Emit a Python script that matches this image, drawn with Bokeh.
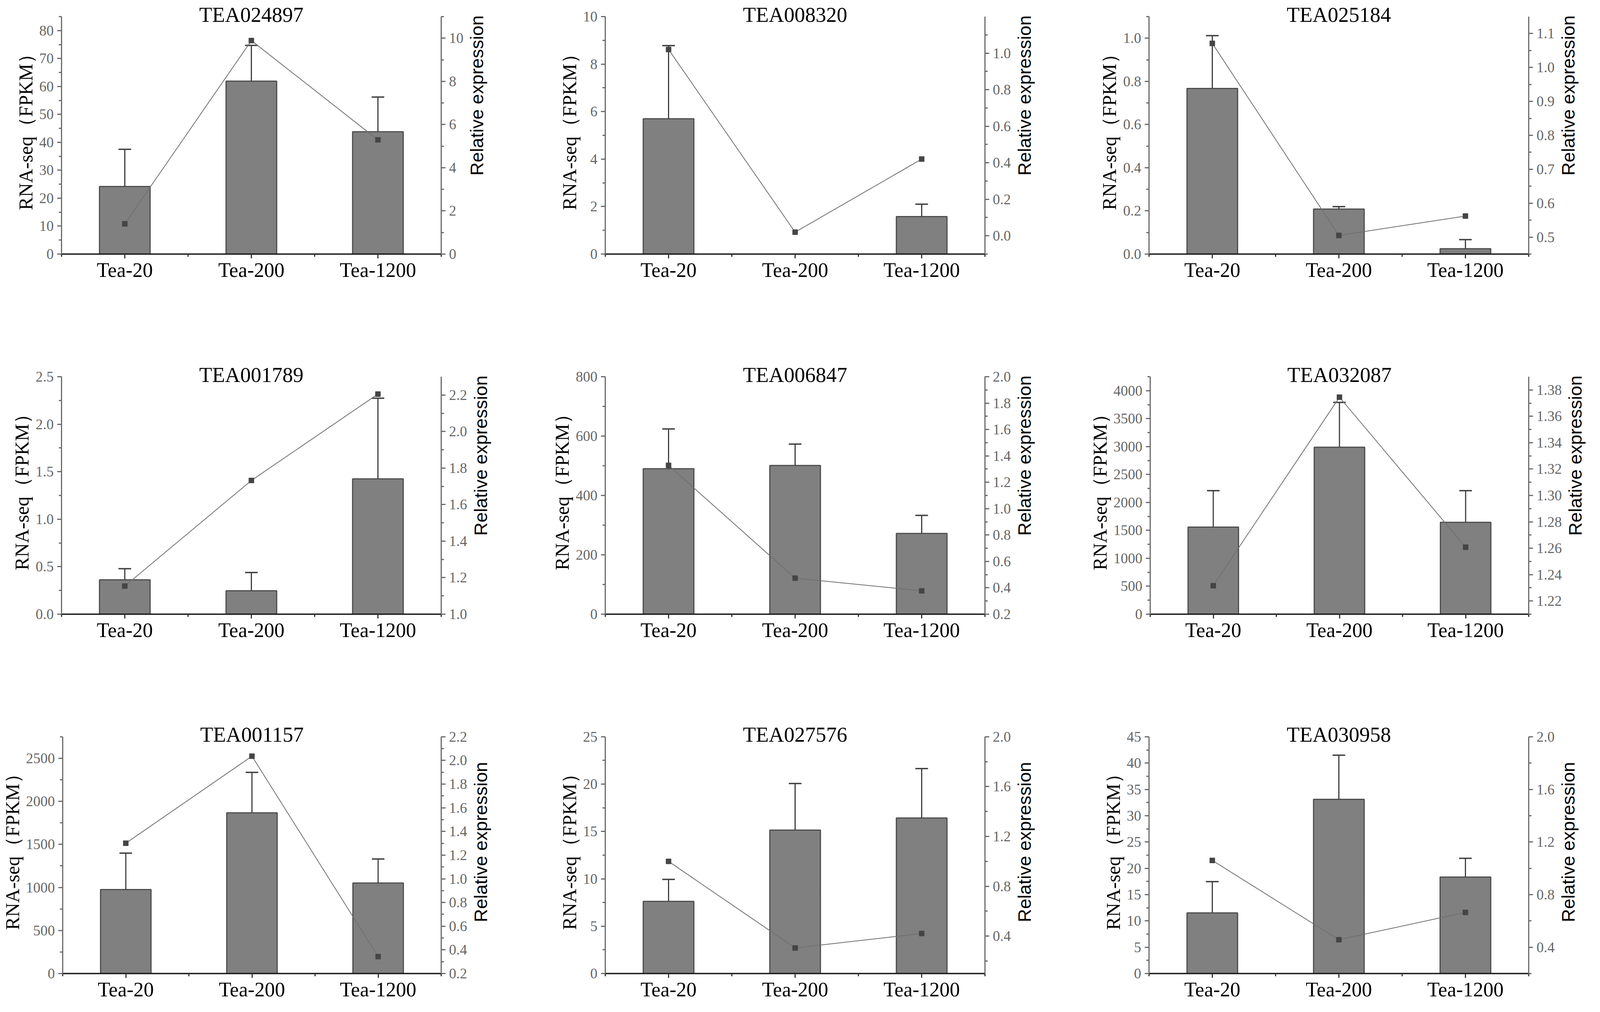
import math
from bokeh.plotting import figure
from bokeh.layouts import row, column
from bokeh.models import (Range1d, LinearAxis, SingleIntervalTicker, FixedTicker,
                          Label, PrintfTickFormatter)
from bokeh.embed import file_html
from bokeh.resources import INLINE

categories = ["Tea-20", "Tea-200", "Tea-1200"]
genes = ["TEA024897", "TEA008320", "TEA025184",
         "TEA001789", "TEA006847", "TEA032087",
         "TEA001157", "TEA027576", "TEA030958"]

# RNA-seq (FPKM) mean, its SD (upper error bar) and qPCR relative expression
fpkm_TEA024897 = [24.2, 61.9, 43.8]
sd_TEA024897 = [13.3, 12.8, 12.4]
rel_TEA024897 = [1.40, 9.89, 5.29]

fpkm_TEA008320 = [5.70, 0.0, 1.58]
sd_TEA008320 = [3.08, float("nan"), 0.52]
rel_TEA008320 = [1.02, 0.02, 0.42]

fpkm_TEA025184 = [0.767, 0.2085, 0.025]
sd_TEA025184 = [0.245, 0.0115, 0.042]
rel_TEA025184 = [1.071, 0.505, 0.562]

fpkm_TEA001789 = [0.362, 0.247, 1.425]
sd_TEA001789 = [0.117, 0.192, 0.849]
rel_TEA001789 = [1.154, 1.732, 2.205]

fpkm_TEA006847 = [490, 501, 272]
sd_TEA006847 = [134, 72, 61]
rel_TEA006847 = [1.328, 0.473, 0.377]

fpkm_TEA032087 = [1559, 2988, 1645]
sd_TEA032087 = [651, 802, 565]
rel_TEA032087 = [1.2316, 1.3745, 1.2608]

fpkm_TEA001157 = [975, 1867, 1052]
sd_TEA001157 = [423, 469, 278]
rel_TEA001157 = [1.301, 2.036, 0.343]

fpkm_TEA027576 = [7.62, 15.15, 16.43]
sd_TEA027576 = [2.32, 4.92, 5.21]
rel_TEA027576 = [1.00, 0.305, 0.421]

fpkm_TEA030958 = [11.53, 33.12, 18.33]
sd_TEA030958 = [5.94, 8.38, 3.57]
rel_TEA030958 = [1.06, 0.457, 0.665]

# axis settings (range low, range high, major tick interval)
left_axis = [(0, 85, 10), (0, 10, 2), (0, 1.1, 0.2),
             (0, 2.5, 0.5), (0, 800, 200), (0, 4250, 500),
             (0, 2750, 500), (0, 25, 5), (0, 45, 5)]
right_axis = [(0, 11, 2), (-0.1, 1.2, 0.2), (0.45, 1.15, 0.1),
              (1.0, 2.3, 0.2), (0.2, 2.0, 0.2), (1.21, 1.39, 0.02),
              (0.2, 2.2, 0.2), (0.1, 2.0, 0.4), (0.2, 2.0, 0.4)]

series = {
    "TEA024897": (fpkm_TEA024897, sd_TEA024897, rel_TEA024897),
    "TEA008320": (fpkm_TEA008320, sd_TEA008320, rel_TEA008320),
    "TEA025184": (fpkm_TEA025184, sd_TEA025184, rel_TEA025184),
    "TEA001789": (fpkm_TEA001789, sd_TEA001789, rel_TEA001789),
    "TEA006847": (fpkm_TEA006847, sd_TEA006847, rel_TEA006847),
    "TEA032087": (fpkm_TEA032087, sd_TEA032087, rel_TEA032087),
    "TEA001157": (fpkm_TEA001157, sd_TEA001157, rel_TEA001157),
    "TEA027576": (fpkm_TEA027576, sd_TEA027576, rel_TEA027576),
    "TEA030958": (fpkm_TEA030958, sd_TEA030958, rel_TEA030958),
}

AX_GRAY = "#6b6b6b"
SERIF = "Liberation Serif"
SANS = "Liberation Sans"

TOTAL_W = 4060
COL_PITCH = 1392
BORDER_LEFT = 157
FRAME_W = 972
TITLE_ZONE = 42
row_heights = [922, 922, 720]
row_border_bottom = [272, 272, 70]
TICK_FONT = 37
TICK_OUT = 11
TICK_STANDOFF = 9


def decimals(step):
    return max(0, -int(math.floor(math.log10(step) + 1e-9)))


def tick_label_width(lo, hi, step):
    d = decimals(step)
    k0 = math.ceil(lo / step - 1e-9)
    k1 = math.floor(hi / step + 1e-9)
    widths = []
    for k in range(k0, k1 + 1):
        s = f"{k * step:.{d}f}"
        w = sum(0.25 if ch == "." else 0.333 if ch == "-" else 0.5 for ch in s)
        widths.append(w * TICK_FONT)
    return max(widths)


def style_y(ax, step):
    ax.axis_line_color = AX_GRAY
    ax.axis_line_width = 3
    ax.major_tick_line_color = AX_GRAY
    ax.major_tick_line_width = 3
    ax.major_tick_out = TICK_OUT
    ax.major_tick_in = 0
    ax.minor_tick_line_color = AX_GRAY
    ax.minor_tick_line_width = 3
    ax.minor_tick_out = 7
    ax.minor_tick_in = 0
    ax.major_label_text_font = SERIF
    ax.major_label_text_font_size = f"{TICK_FONT}px"
    ax.major_label_text_color = "#666666"
    ax.major_label_standoff = TICK_STANDOFF
    ax.axis_label_text_font_style = "normal"
    ax.axis_label_text_color = "#000000"
    ax.formatter = PrintfTickFormatter(format=f"%.{decimals(step)}f")


def make_panel(i):
    gene = genes[i]
    vals, sds, rels = series[gene]
    r = i // 3
    c = i % 3
    lo, hi, step = left_axis[i]
    rlo, rhi, rstep = right_axis[i]
    xs = [k + 1 for k in range(len(categories))]

    H = row_heights[r]
    B = row_border_bottom[r]
    A = H - B - TITLE_ZONE           # pixel length of the drawn y axes
    ext = TITLE_ZONE / A              # extra room above the axes for the title

    R = int(math.ceil(TICK_OUT + TICK_STANDOFF + tick_label_width(rlo, rhi, rstep) + 7))
    W = BORDER_LEFT + FRAME_W + R

    p = figure(width=W, height=H,
               x_range=Range1d(0.5, len(categories) + 0.5),
               y_range=Range1d(lo, hi + (hi - lo) * ext),
               output_backend="svg", toolbar_location=None,
               min_border_left=BORDER_LEFT, min_border_right=R,
               min_border_top=0, min_border_bottom=B)
    p.outline_line_color = None
    p.grid.visible = False

    # x axis
    xa = p.xaxis[0]
    xa.ticker = FixedTicker(ticks=xs, minor_ticks=[k + 0.5 for k in range(len(categories) + 1)])
    xa.major_label_overrides = {x: cat for x, cat in zip(xs, categories)}
    xa.axis_line_color = "#1a1a1a"
    xa.axis_line_width = 3.5
    xa.major_tick_line_color = "#333333"
    xa.major_tick_line_width = 3
    xa.major_tick_out = TICK_OUT
    xa.major_tick_in = 0
    xa.minor_tick_line_color = "#333333"
    xa.minor_tick_line_width = 3
    xa.minor_tick_out = 7
    xa.minor_tick_in = 0
    xa.major_label_text_font = SERIF
    xa.major_label_text_font_size = "52px"
    xa.major_label_text_color = "#000000"
    xa.major_label_standoff = 1

    # left axis
    ya = p.yaxis[0]
    ya.ticker = SingleIntervalTicker(interval=step, num_minor_ticks=2)
    style_y(ya, step)
    ya.bounds = (lo, hi)
    ya.axis_label = "RNA-seq（FPKM）"
    ya.axis_label_text_font = SERIF
    ya.axis_label_text_font_size = "50px"
    ya.axis_label_standoff = 4

    # right axis (its title is drawn in a narrow strip next to the panel)
    p.extra_y_ranges = {"rel": Range1d(rlo, rhi + (rhi - rlo) * ext)}
    ra = LinearAxis(y_range_name="rel",
                    ticker=SingleIntervalTicker(interval=rstep, num_minor_ticks=2))
    style_y(ra, rstep)
    ra.bounds = (rlo, rhi)
    p.add_layout(ra, "right")

    # bars
    p.vbar(x=xs, top=vals, bottom=0, width=0.4,
           fill_color="#808080", line_color="#4d4d4d", line_width=3)

    # upper error bars
    ok = [not math.isnan(s) for s in sds]
    ex = [x for x, o in zip(xs, ok) if o]
    ev = [v for v, o in zip(vals, ok) if o]
    eu = [v + s for v, s, o in zip(vals, sds, ok) if o]
    p.segment(x0=ex, y0=ev, x1=ex, y1=eu, line_color="#3f3f3f", line_width=3)
    p.segment(x0=[x - 0.05 for x in ex], y0=eu, x1=[x + 0.05 for x in ex], y1=eu,
              line_color="#3f3f3f", line_width=3.5)

    # relative expression line
    p.line(x=xs, y=rels, y_range_name="rel", line_color="#707070", line_width=2)
    p.scatter(x=xs, y=rels, y_range_name="rel", marker="square", size=13,
              fill_color="#454545", line_color="#454545")

    # panel title, just above the top of the axes
    p.add_layout(Label(x=(len(categories) + 1) / 2, y=hi + (hi - lo) * 5 / A, text=gene,
                       text_align="center", text_baseline="alphabetic",
                       text_font=SERIF, text_font_size="54px", text_color="#000000"))

    # strip holding the right axis title
    LW = (COL_PITCH if c < 2 else TOTAL_W - 2 * COL_PITCH) - W
    s = figure(width=LW, height=H, x_range=Range1d(0, LW), y_range=Range1d(0, H),
               output_backend="svg", toolbar_location=None,
               x_axis_location=None, y_axis_location=None, min_border=0)
    s.outline_line_color = None
    s.grid.visible = False
    s.add_layout(Label(x=27, y=H - (TITLE_ZONE + A / 2), text="Relative expression",
                       angle=math.pi / 2, text_align="center", text_baseline="middle",
                       text_font=SANS, text_font_size="47px", text_color="#000000"))
    return [p, s]


rows = []
for r in range(3):
    items = []
    for c in range(3):
        items.extend(make_panel(r * 3 + c))
    rows.append(row(*items))
layout = column(*rows)

open("out.html", "w").write(file_html(layout, INLINE))
